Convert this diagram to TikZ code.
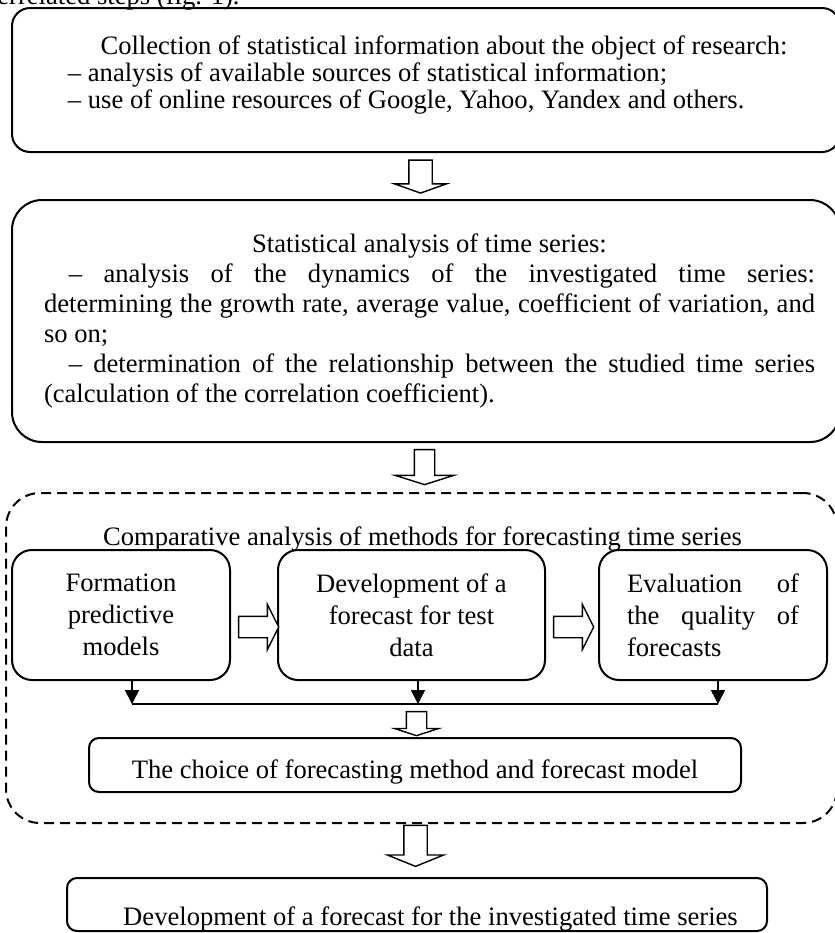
\documentclass[tikz,border=0pt]{standalone}
\usepackage{fontspec}
\setmainfont{Liberation Serif}
\usetikzlibrary{shapes.arrows,arrows.meta}
\tikzstyle{stepbox} = [draw=black, line width=1pt, rectangle, inner sep=0pt]
\tikzstyle{groupbox} = [draw=black, line width=1pt, dash pattern=on 5pt off 3pt,
    rectangle, rounded corners=17pt]
\tikzstyle{hollowarrow} = [draw=black, fill=white, line width=0.7pt,
    single arrow, single arrow head indent=0pt]
\tikzstyle{downarrow} = [hollowarrow, shape border rotate=270]
\tikzstyle{tip} = [line width=0.8pt, -{Triangle[width=7pt,length=7pt]}]

\begin{document}
\begin{tikzpicture}[x=0.5pt, y=-0.5pt, font=\fontsize{13.3pt}{16pt}\selectfont]
\useasboundingbox (0,0) rectangle (835,933);
\node[anchor=base east, inner sep=0pt] (intro) at (240,4) {interrelated steps (fig. 1).};
\node[stepbox, rounded corners=9pt, minimum width=414pt, minimum height=72pt,
    text height=10pt, text depth=36pt] (collect) at (426,80) {%
    \hspace{18pt}\begin{minipage}[t]{376pt}
    \fontsize{13.3pt}{13.5pt}\selectfont
    {\centering Collection of statistical information about the object of research:\par}
    – analysis of available sources of statistical information;\par
    – use of online resources of Google, Yahoo, Yandex and others.
    \end{minipage}%
};
\node[downarrow, minimum height=16.5pt, inner sep=5.5pt, single arrow head extend=7.25pt,
    single arrow tip angle=141] (arr1) at (420.5,174.5) {};
\node[stepbox, rounded corners=15pt, minimum width=414pt, minimum height=121pt] (analysis) at (426,321) {%
    \hspace{3.5pt}\begin{minipage}{385.5pt}
    \fontsize{13.3pt}{15pt}\selectfont
    {\centering Statistical analysis of time series:\par}
    \hspace*{12.5pt}– analysis of the dynamics of the investigated time series:\linebreak
    determining the growth rate, average value, coefficient of variation, and\linebreak
    so on;\par
    \hspace*{12.5pt}– determination of the relationship between the studied time series\linebreak
    (calculation of the correlation coefficient).
    \end{minipage}%
};
\node[downarrow, minimum height=17.5pt, inner sep=4.75pt, single arrow head extend=9.5pt,
    single arrow tip angle=145] (arr2) at (424.5,465.5) {};
\node[groupbox, minimum width=415.5pt, minimum height=165pt] (compare) at (421.5,658) {};
\node[anchor=base, inner sep=0pt] (comptitle) at (422.5,545)
    {Comparative analysis of methods for forecasting time series};
\node[stepbox, rounded corners=10pt, minimum width=109pt, minimum height=65pt, align=center]
    (formation) at (121,615) {Formation\\predictive\\models};
\node[stepbox, rounded corners=10pt, minimum width=133.5pt, minimum height=65pt, align=center]
    (forecast) at (411.5,615) {Development of a\\forecast for test\\data};
\node[stepbox, rounded corners=10pt, minimum width=114pt, minimum height=65pt]
    (evaluation) at (713,615) {%
    \begin{minipage}{86pt}
    \fontsize{13.3pt}{16pt}\selectfont
    Evaluation of\linebreak the quality of\linebreak forecasts
    \end{minipage}%
};
\node[hollowarrow, minimum height=20pt, inner sep=5pt, single arrow head extend=6pt,
    single arrow tip angle=127] (right1) at (256,627) {};
\node[hollowarrow, minimum height=20pt, inner sep=5pt, single arrow head extend=6pt,
    single arrow tip angle=127] (right2) at (571,627) {};
\coordinate (ja) at (132,704);
\coordinate (jb) at (418,704);
\coordinate (jc) at (718,704);
\draw[line width=1pt] (ja) -- (jc);
\foreach \b/\j in {formation/ja, forecast/jb, evaluation/jc}
    \draw[tip] (\j |- \b.south) -- (\j);
\node[downarrow, minimum height=12pt, inner sep=4.75pt, single arrow head extend=6pt,
    single arrow tip angle=144] (arr3) at (416.5,722) {};
\node[stepbox, rounded corners=5pt, minimum width=326pt, minimum height=27pt,
    text height=13pt, text depth=0pt] (choice) at (415,765)
    {The choice of forecasting method and forecast model};
\node[downarrow, minimum height=20.5pt, inner sep=5.5pt, single arrow head extend=8.25pt,
    single arrow tip angle=136] (arr4) at (415.5,843.5) {};
\node[stepbox, rounded corners=5pt, minimum width=350pt, minimum height=26.5pt,
    text height=20.5pt, text depth=0pt] (final) at (417,904.5)
    {\hspace{13.5pt}Development of a forecast for the investigated time series};
\end{tikzpicture}
\end{document}
